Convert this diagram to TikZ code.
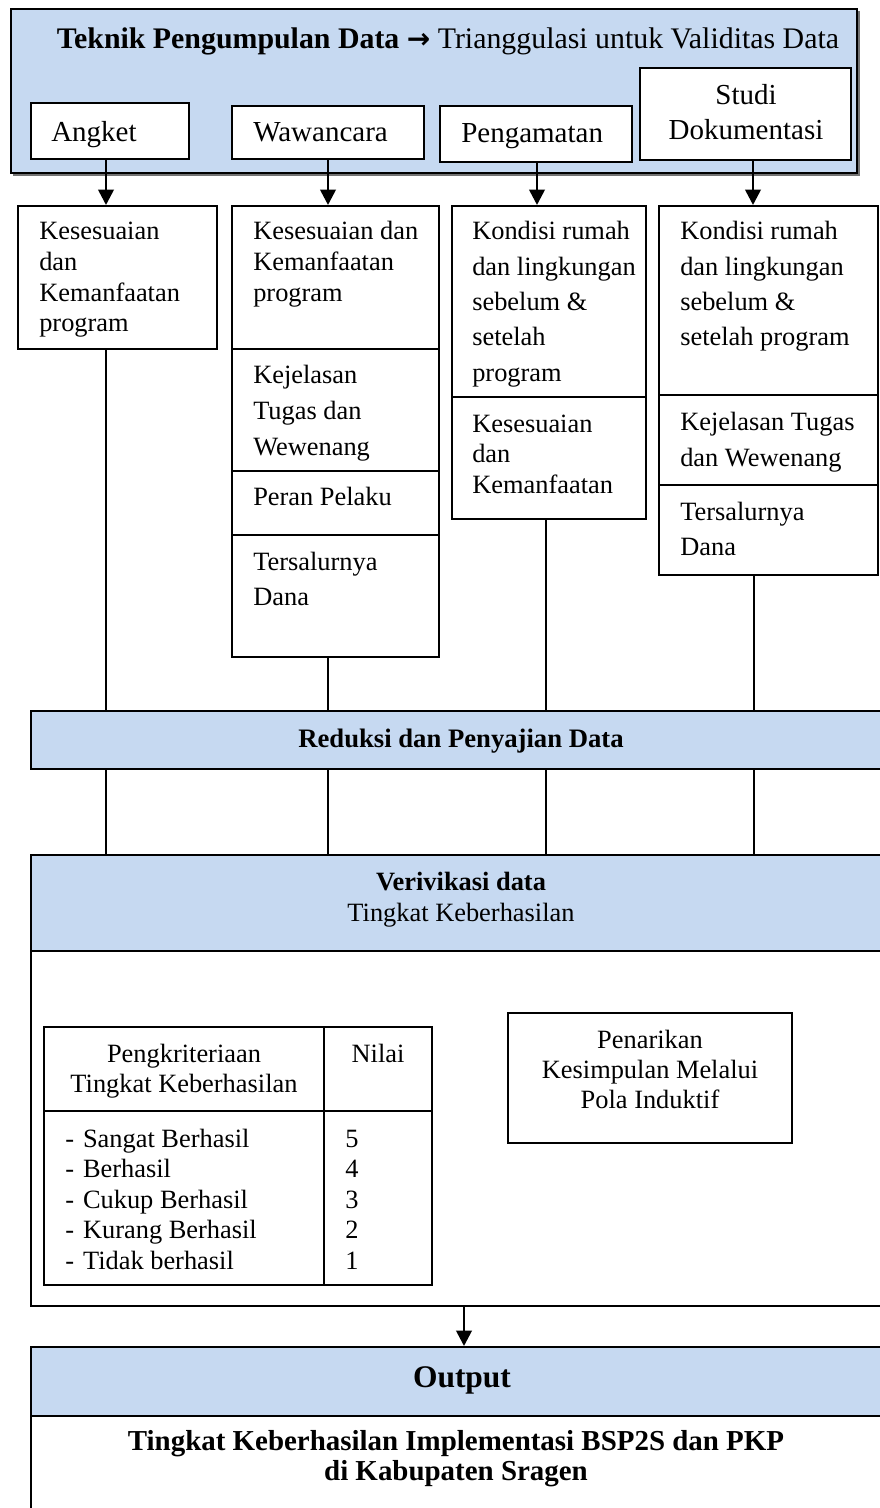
\documentclass[tikz,border=0pt]{standalone}
\usepackage{fontspec}
\setmainfont{Liberation Serif}
\newfontfamily\arrowfont{DejaVu Sans}
\usetikzlibrary{arrows.meta,fit}
\definecolor{paleblue}{RGB}{198,217,241}
% stacked lines: #1 font size, #2 line pitch, #3 column type, #4 lines
\newcommand\stack[4]{{\fontsize{#1}{#2}\selectfont\begin{tabular}[t]{@{}#3@{}}#4\end{tabular}}}
\begin{document}
\begin{tikzpicture}[x=0.75pt,y=-0.75pt,
  box/.style={draw, line width=1.5pt, inner sep=0pt, fill=white},
  bluebox/.style={box, fill=paleblue},
  thin box/.style={draw, line width=1.2pt, inner sep=0pt},
  txt/.style={inner sep=0pt, anchor=base west},
  ctxt/.style={inner sep=0pt, anchor=base},
  link/.style={line width=2pt},
  arr/.style={line width=2pt, -{Triangle[length=11.5pt,width=11.5pt]}}]
\useasboundingbox (0,0) rectangle (880,1508);
\clip (0,0) rectangle (880,1508);
\fill[white] (0,0) rectangle (880,1508);

% column guides
\coordinate (a1) at (106,0);
\coordinate (a2) at (328,0);
\coordinate (a3) at (537,0);
\coordinate (a4) at (753,0);
\coordinate (c1) at (106,0);
\coordinate (c2) at (328,0);
\coordinate (c3) at (546,0);
\coordinate (c4) at (754,0);
\coordinate (c5) at (464,0);

% header panel with its shadow
\fill[black!55] (13,11) rectangle (860,176);
\node[bluebox, fit={(11,9)(857,173)}] (head) {};
\node[ctxt] (title) at (448,49) {\fontsize{22.4pt}{26pt}\selectfont\textbf{Teknik Pengumpulan Data} {\arrowfont\bfseries\fontsize{21pt}{26pt}\selectfont →} Trianggulasi untuk Validitas Data};

% data collection techniques
\node[box, fit={(31,103)(189,159)}] (angket) {};
\node[txt] (angketT) at (51,142) {\fontsize{21.75pt}{26pt}\selectfont Angket};
\node[box, fit={(232,106)(424,159)}] (waw) {};
\node[txt] (wawT) at (253,142) {\fontsize{21.75pt}{26pt}\selectfont Wawancara};
\node[box, fit={(440,106)(632,162)}] (peng) {};
\node[txt] (pengT) at (461,143) {\fontsize{21.75pt}{26pt}\selectfont Pengamatan};
\node[box, fit={(640,68)(851,160)}] (studi) {};
\node[ctxt] (studiT) at (746,105) {\stack{21.75pt}{26.25pt}{c}{Studi\\Dokumentasi}};

% column 1
\node[box, fit={(18,206)(217,349)}] (k1) {};
\node[txt] (k1T) at (39,240) {\stack{19.8pt}{23pt}{l}{Kesesuaian\\dan\\Kemanfaatan\\program}};

% column 2
\node[box, fit={(232,206)(439,349)}] (w1) {};
\node[box, fit={(232,349)(439,471)}] (w2) {};
\node[box, fit={(232,471)(439,535)}] (w3) {};
\node[box, fit={(232,535)(439,657)}] (w4) {};
\node[txt] (w1T) at (253,240) {\stack{19.8pt}{23.25pt}{l}{Kesesuaian dan\\Kemanfaatan\\program}};
\node[txt] (w2T) at (253,383) {\stack{19.8pt}{27pt}{l}{Kejelasan\\Tugas dan\\Wewenang}};
\node[txt] (w3T) at (253,505) {\stack{19.8pt}{23pt}{l}{Peran Pelaku}};
\node[txt] (w4T) at (253,570) {\stack{19.8pt}{26.25pt}{l}{Tersalurnya\\Dana}};

% column 3
\node[box, fit={(452,206)(646,397)}] (p1) {};
\node[box, fit={(452,397)(646,519)}] (p2) {};
\node[txt] (p1T) at (472,240) {\stack{19.8pt}{26.5pt}{l}{Kondisi rumah\\dan lingkungan\\sebelum \&\\setelah\\program}};
\node[txt] (p2T) at (472,432) {\stack{19.8pt}{22.9pt}{l}{Kesesuaian\\dan\\Kemanfaatan}};

% column 4
\node[box, fit={(659,206)(878,395)}] (s1) {};
\node[box, fit={(659,395)(878,485)}] (s2) {};
\node[box, fit={(659,485)(878,575)}] (s3) {};
\node[txt] (s1T) at (680,240) {\stack{19.8pt}{26.5pt}{l}{Kondisi rumah\\dan lingkungan\\sebelum \&\\setelah program}};
\node[txt] (s2T) at (680,431) {\stack{19.8pt}{26.25pt}{l}{Kejelasan Tugas\\dan Wewenang}};
\node[txt] (s3T) at (680,520) {\stack{19.8pt}{26.25pt}{l}{Tersalurnya\\Dana}};

% reduction band
\node[bluebox, fit={(31,711)(895,769)}] (red) {};
\node[ctxt] (redT) at (461,747) {\fontsize{20pt}{24pt}\selectfont\textbf{Reduksi dan Penyajian Data}};

% verification panel
\node[bluebox, fit={(31,855)(895,951)}] (ver) {};
\node[box, fit={(31,951)(895,1306)}] (verbody) {};
\node[ctxt] (verT) at (461,890) {\stack{19.8pt}{23.25pt}{c}{\textbf{Verivikasi data}\\Tingkat Keberhasilan}};

% criteria table
\node[thin box, fit={(44,1027)(324,1111)}] (th1) {};
\node[thin box, fit={(324,1027)(432,1111)}] (th2) {};
\node[thin box, fit={(44,1111)(324,1285)}] (tb1) {};
\node[thin box, fit={(324,1111)(432,1285)}] (tb2) {};
\node[ctxt] (th1T) at (184,1062) {\stack{19.8pt}{22.5pt}{c}{Pengkriteriaan\\Tingkat Keberhasilan}};
\node[ctxt] (th2T) at (378,1062) {\stack{19.8pt}{22.5pt}{c}{Nilai}};
\node[txt] (tb1T) at (65,1147) {\stack{19.8pt}{22.9pt}{l@{\hspace{6.75pt}}l}{-&Sangat Berhasil\\-&Berhasil\\-&Cukup Berhasil\\-&Kurang Berhasil\\-&Tidak berhasil}};
\node[txt] (tb2T) at (345,1147) {\stack{19.8pt}{22.9pt}{l}{5\\4\\3\\2\\1}};

% conclusion box
\node[box, fit={(508,1013)(792,1143)}] (pk) {};
\node[ctxt] (pkT) at (650,1048) {\stack{19.8pt}{22.5pt}{c}{Penarikan\\Kesimpulan Melalui\\Pola Induktif}};

% output panel
\node[bluebox, fit={(31,1347)(895,1416)}] (out) {};
\node[box, fit={(31,1416)(895,1540)}] (outbody) {};
\node[ctxt] (outT) at (462,1387) {\fontsize{23.6pt}{28pt}\selectfont\textbf{Output}};
\node[ctxt] (outbodyT) at (456,1450) {\stack{21.7pt}{22.5pt}{c}{\textbf{Tingkat Keberhasilan Implementasi BSP2S dan PKP}\\\textbf{di Kabupaten Sragen}}};

% connectors
\draw[arr] (angket.south -| a1) -- (k1.north -| a1);
\draw[arr] (waw.south -| a2) -- (w1.north -| a2);
\draw[arr] (peng.south -| a3) -- (p1.north -| a3);
\draw[arr] (studi.south -| a4) -- (s1.north -| a4);
\draw[link] (k1.south -| c1) -- (red.north -| c1);
\draw[link] (w4.south -| c2) -- (red.north -| c2);
\draw[link] (p2.south -| c3) -- (red.north -| c3);
\draw[link] (s3.south -| c4) -- (red.north -| c4);
\draw[link] (red.south -| c1) -- (ver.north -| c1);
\draw[link] (red.south -| c2) -- (ver.north -| c2);
\draw[link] (red.south -| c3) -- (ver.north -| c3);
\draw[link] (red.south -| c4) -- (ver.north -| c4);
\draw[arr] (verbody.south -| c5) -- (out.north -| c5);
\end{tikzpicture}
\end{document}
